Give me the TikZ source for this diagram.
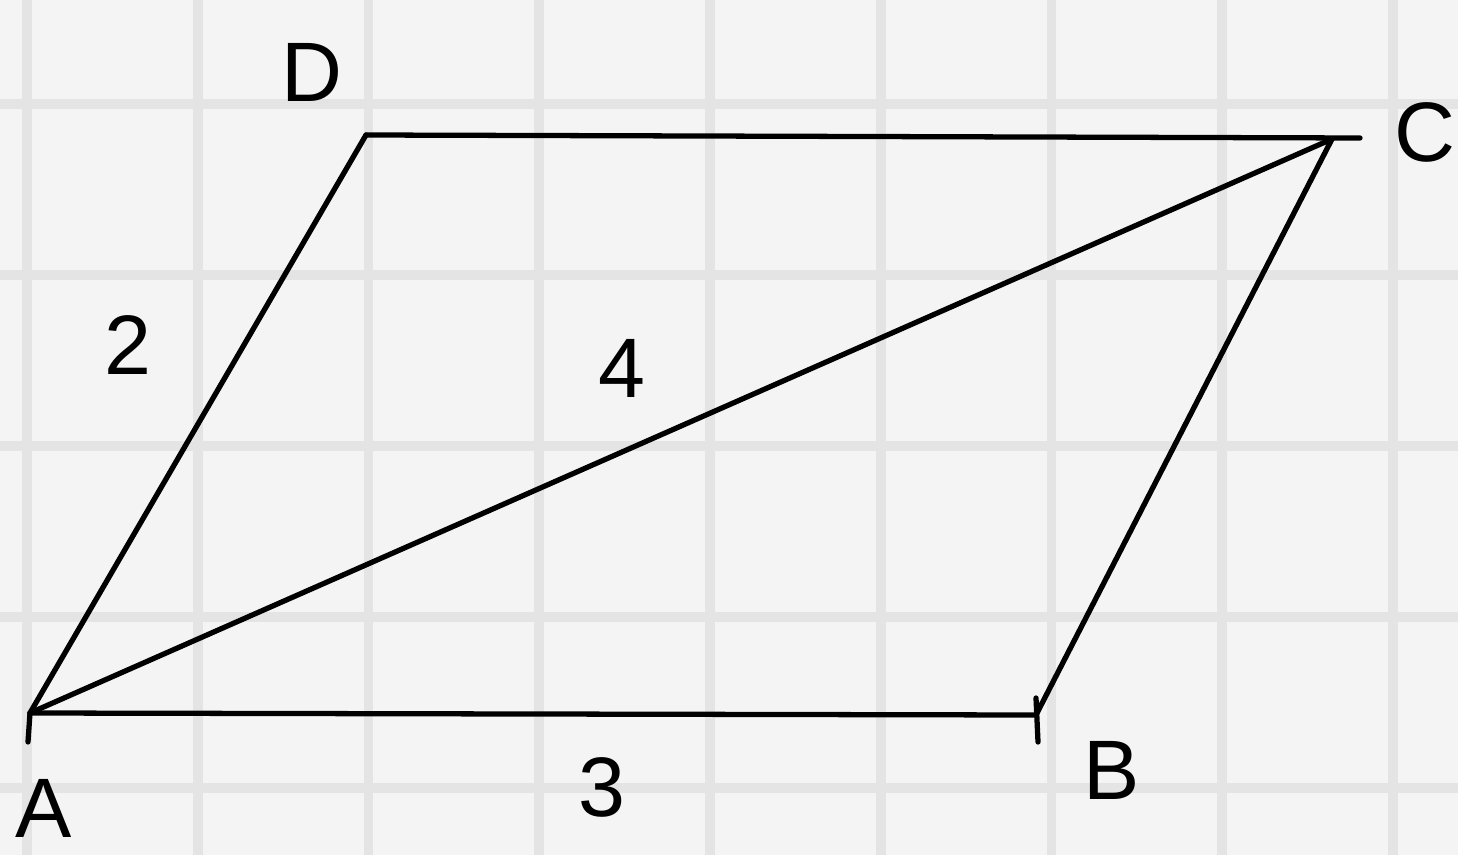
\documentclass[tikz,border=0pt]{standalone}
\usepackage{fontspec}
\setmainfont{Liberation Sans}
\definecolor{paper}{HTML}{F4F4F4}
\definecolor{gridline}{HTML}{E4E4E4}
\tikzset{
	edge/.style={line width=1.5pt, line cap=round},
	lbl/.style={font=\fontsize{24}{24}\selectfont}
}
\begin{document}
\begin{tikzpicture}[x=0.01cm, y=-0.01cm]
		%draw paper and grid
		\fill[paper] (0,0) rectangle (1458,855);
		\useasboundingbox (0,0) rectangle (1458,855);
		\foreach \gx in {27,197.75,368.5,539.25,710,880.75,1051.5,1222.25,1393}
			\draw[gridline, line width=2.8pt] (\gx,0) -- (\gx,855);
		\foreach \gy in {104,275,446,617,788}
			\draw[gridline, line width=2.8pt] (0,\gy) -- (1458,\gy);
		%corners
		\coordinate (A) at (30,713);
		\coordinate (B) at (1036,715);
		\coordinate (C) at (1332,139);
		\coordinate (D) at (366,135);
		\coordinate (Cend) at (1360,138);
		\coordinate (Atick) at (28,742);
		\coordinate (Btop) at (1036,698);
		\coordinate (Bbot) at (1038,742);
		%draw sides and diagonal
		\draw[edge] (A) -- (B);
		\draw[edge] (A) -- (D);
		\draw[edge] (D) -- (Cend);
		\draw[edge] (B) -- (C);
		\draw[edge] (A) -- (C);
		%draw ticks
		\draw[edge] (A) -- (Atick);
		\draw[edge] (Btop) -- (Bbot);
		%draw labels
		\node[lbl] (labA) at (44,808) {A};
		\node[lbl] (labB) at (1112,770) {B};
		\node[lbl] (labC) at (1425,132) {C};
		\node[lbl] (labD) at (312,72) {D};
		\node[lbl] (lab2) at (128,345) {2};
		\node[lbl] (lab4) at (622,368) {4};
		\node[lbl] (lab3) at (602,787) {3};
	\end{tikzpicture}
\end{document}
